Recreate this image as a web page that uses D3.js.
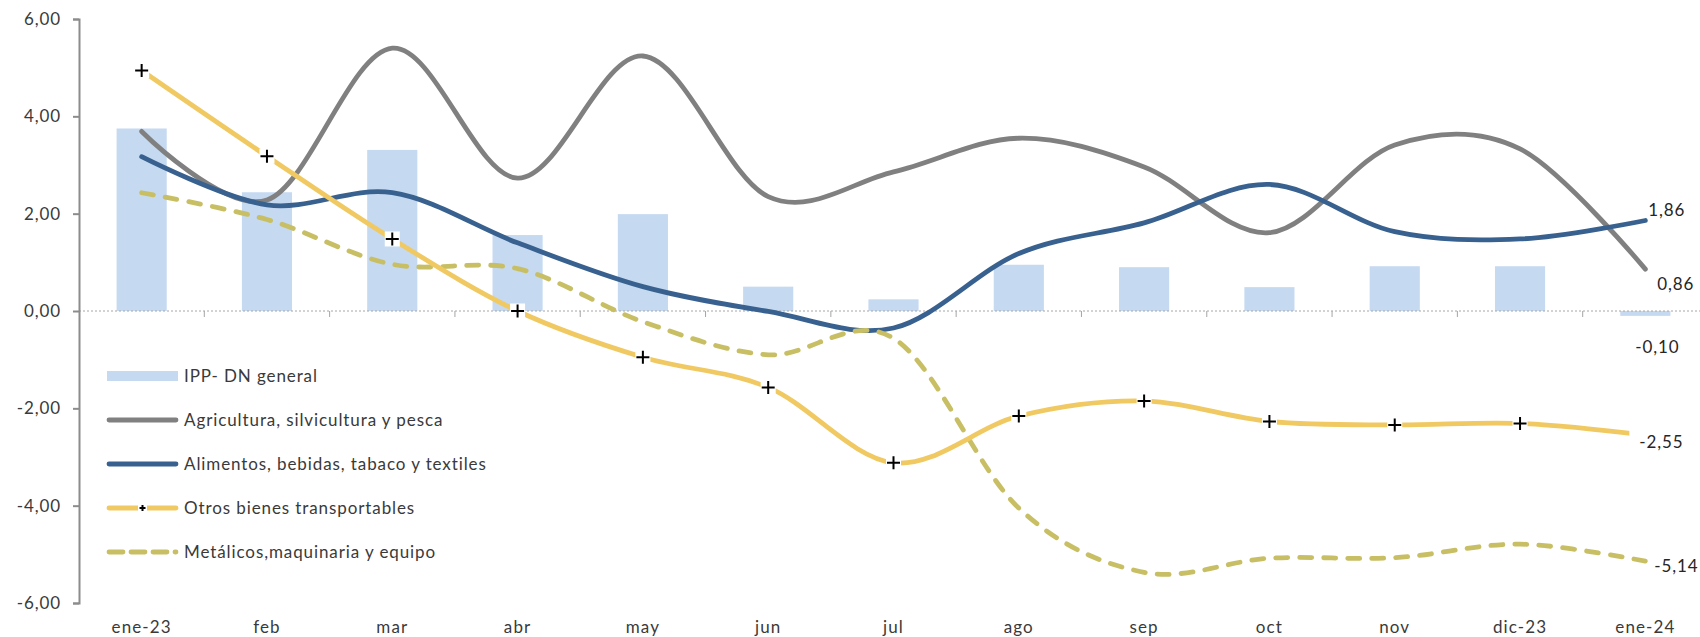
<!DOCTYPE html>
<html>
<head>
<meta charset="utf-8">
<script src="https://cdn.jsdelivr.net/npm/d3@7"></script>
<style>
  html, body { margin: 0; padding: 0; background: #ffffff; }
  svg { display: block; }
  text { font-family: Lato, "Open Sans", sans-serif; font-weight: 400; letter-spacing: 0.9px; }
</style>
</head>
<body>
<div id="chart"></div>
<script>
// ---------- data ----------
const categories = ["ene-23","feb","mar","abr","may","jun","jul","ago","sep","oct","nov","dic-23","ene-24"];
const ippGeneral   = [3.75, 2.44, 3.31, 1.56, 1.99, 0.50, 0.24, 0.95, 0.90, 0.49, 0.92, 0.92, -0.10];
const agricultura  = [3.69, 2.28, 5.40, 2.73, 5.24, 2.35, 2.86, 3.55, 2.96, 1.61, 3.41, 3.33, 0.86];
const alimentos    = [3.17, 2.18, 2.43, 1.40, 0.50, -0.01, -0.35, 1.18, 1.81, 2.60, 1.63, 1.48, 1.86];
const otrosBienes  = [4.94, 3.18, 1.48, 0.00, -0.95, -1.57, -3.12, -2.16, -1.85, -2.27, -2.34, -2.31, -2.55];
const metalicos    = [2.43, 1.88, 0.96, 0.87, -0.22, -0.90, -0.56, -4.05, -5.37, -5.08, -5.07, -4.79, -5.14];
const yTicks = [-6, -4, -2, 0, 2, 4, 6];
const seriesNames = ["IPP- DN general","Agricultura, silvicultura y pesca","Alimentos, bebidas, tabaco y textiles","Otros bienes transportables","Metálicos,maquinaria y equipo"];

// ---------- setup ----------
const W = 1700, H = 637;
const svg = d3.select("#chart").append("svg").attr("width", W).attr("height", H);

const x = d3.scaleBand().domain(categories).range([79, 1708]).padding(0);
const cx = c => x(c) + x.bandwidth() / 2;
const y = d3.scaleLinear().domain([-6, 6]).range([603, 19]);

const loc = d3.formatLocale({decimal: ",", thousands: ".", grouping: [3], currency: ["", ""], minus: "-"});
const fmt = loc.format(".2f");

const colors = {
  bar: "#c5d9f1",
  agri: "#808080",
  alim: "#38618f",
  otros: "#f0c962",
  metal: "#c8bf65",
  axis: "#8c8c8c",
  text: "#3a3a3a"
};

// ---------- bars ----------
const barW = x.bandwidth() * 0.4;
svg.append("g").selectAll("rect").data(categories).join("rect")
  .attr("x", (c) => cx(c) - barW / 2)
  .attr("y", (c, i) => y(Math.max(0, ippGeneral[i])))
  .attr("width", barW)
  .attr("height", (c, i) => Math.abs(y(ippGeneral[i]) - y(0)))
  .attr("fill", colors.bar);

// ---------- zero line + category ticks ----------
svg.append("line")
  .attr("x1", 79).attr("x2", 1708)
  .attr("y1", y(0)).attr("y2", y(0))
  .attr("stroke", "#a6a6a6").attr("stroke-width", 1).attr("stroke-dasharray", "2,2");
svg.append("g").selectAll("line").data(categories.slice(1)).join("line")
  .attr("x1", c => x(c)).attr("x2", c => x(c))
  .attr("y1", y(0)).attr("y2", y(0) + 6)
  .attr("stroke", "#a6a6a6").attr("stroke-width", 1);

// ---------- y axis ----------
const yAxis = svg.append("g").attr("transform", "translate(79,0)")
  .call(d3.axisLeft(y).tickValues(yTicks).tickFormat(fmt).tickSize(6).tickPadding(12));
yAxis.select(".domain").attr("stroke", colors.axis).attr("stroke-width", 2);
yAxis.selectAll(".tick line").attr("stroke", colors.axis).attr("stroke-width", 2);
yAxis.selectAll(".tick text").attr("fill", colors.text)
  .style("font-size", "17px").style("font-family", "Lato, sans-serif").style("font-weight", 400).style("letter-spacing", "0.9px");

// ---------- x labels ----------
const xAxis = svg.append("g").attr("transform", "translate(0,620)")
  .call(d3.axisBottom(x).tickSize(0).tickPadding(0));
xAxis.select(".domain").remove();
xAxis.selectAll(".tick text").attr("fill", colors.text).attr("dy", "0.75em")
  .style("font-size", "17px").style("font-family", "Lato, sans-serif").style("font-weight", 400).style("letter-spacing", "1.1px");

// ---------- lines ----------
const line = d3.line()
  .x((d, i) => cx(categories[i]))
  .y(d => y(d))
  .curve(d3.curveCatmullRom.alpha(0));

svg.append("path").datum(agricultura).attr("d", line)
  .attr("fill", "none").attr("stroke", colors.agri).attr("stroke-width", 4.8).attr("stroke-linecap", "round");
svg.append("path").datum(alimentos).attr("d", line)
  .attr("fill", "none").attr("stroke", colors.alim).attr("stroke-width", 4.8).attr("stroke-linecap", "round");
svg.append("path").datum(metalicos).attr("d", line)
  .attr("fill", "none").attr("stroke", colors.metal).attr("stroke-width", 4.8)
  .attr("stroke-linecap", "round").attr("stroke-dasharray", "12,12");
svg.append("path").datum(otrosBienes).attr("d", line)
  .attr("fill", "none").attr("stroke", colors.otros).attr("stroke-width", 4.8);

// markers for Otros bienes
const mk = svg.append("g");
otrosBienes.forEach((v, i) => {
  const px = cx(categories[i]), py = y(v);
  const last = i === otrosBienes.length - 1;
  if (last) {
    mk.append("rect").attr("x", px - 16).attr("y", py - 7).attr("width", 17).attr("height", 14).attr("fill", "#fff");
    return;
  }
  mk.append("rect").attr("x", px - 7.5).attr("y", py - 7.5).attr("width", 15).attr("height", 15).attr("fill", "#fff");
  mk.append("path").attr("d", `M${px - 6.5},${py}H${px + 6.5}M${px},${py - 6.5}V${py + 6.5}`)
    .attr("stroke", "#000").attr("stroke-width", 2);
});

// ---------- data labels at the last point ----------
const li = categories.length - 1;
const lx = cx(categories[li]);
const dl = svg.append("g").attr("fill", "#262626").style("font-size", "17px");
dl.append("text").attr("x", lx + 3).attr("y", y(alimentos[li]) - 10).attr("dy", "0.35em").text(fmt(alimentos[li]));
dl.append("text").attr("x", lx + 12).attr("y", y(agricultura[li]) + 15).attr("dy", "0.35em").text(fmt(agricultura[li]));
dl.append("text").attr("x", lx - 10).attr("y", y(ippGeneral[li]) + 31).attr("dy", "0.35em").text(fmt(ippGeneral[li]));
dl.append("text").attr("x", lx - 6).attr("y", y(otrosBienes[li]) + 7).attr("dy", "0.35em").text(fmt(otrosBienes[li]));
dl.append("text").attr("x", lx + 9).attr("y", y(metalicos[li]) + 5).attr("dy", "0.35em").text(fmt(metalicos[li]));

// ---------- legend ----------
const lg = svg.append("g").attr("transform", "translate(107,376)");
const rowH = 44;
seriesNames.forEach((name, i) => {
  const g = lg.append("g").attr("transform", `translate(0,${i * rowH})`);
  if (i === 0) {
    g.append("rect").attr("x", 0).attr("y", -5).attr("width", 71).attr("height", 10).attr("fill", colors.bar);
  } else if (i === 1 || i === 2) {
    g.append("line").attr("x1", 2).attr("x2", 69).attr("y1", 0).attr("y2", 0)
      .attr("stroke", i === 1 ? colors.agri : colors.alim).attr("stroke-width", 4.8).attr("stroke-linecap", "round");
  } else if (i === 3) {
    g.append("line").attr("x1", 2).attr("x2", 69).attr("y1", 0).attr("y2", 0)
      .attr("stroke", colors.otros).attr("stroke-width", 4.8).attr("stroke-linecap", "round");
    g.append("rect").attr("x", 31).attr("y", -5).attr("width", 9).attr("height", 10).attr("fill", "#fff");
    g.append("path").attr("d", "M32.5,0H38.5M35.5,-3V3").attr("stroke", "#000").attr("stroke-width", 2);
  } else {
    g.append("line").attr("x1", 2).attr("x2", 69).attr("y1", 0).attr("y2", 0)
      .attr("stroke", colors.metal).attr("stroke-width", 4.8).attr("stroke-linecap", "round").attr("stroke-dasharray", "14,8");
  }
  g.append("text").attr("x", 77).attr("y", 0).attr("dy", "0.35em")
    .attr("fill", colors.text).style("font-size", "17px").text(name);
});
</script>
</body>
</html>
